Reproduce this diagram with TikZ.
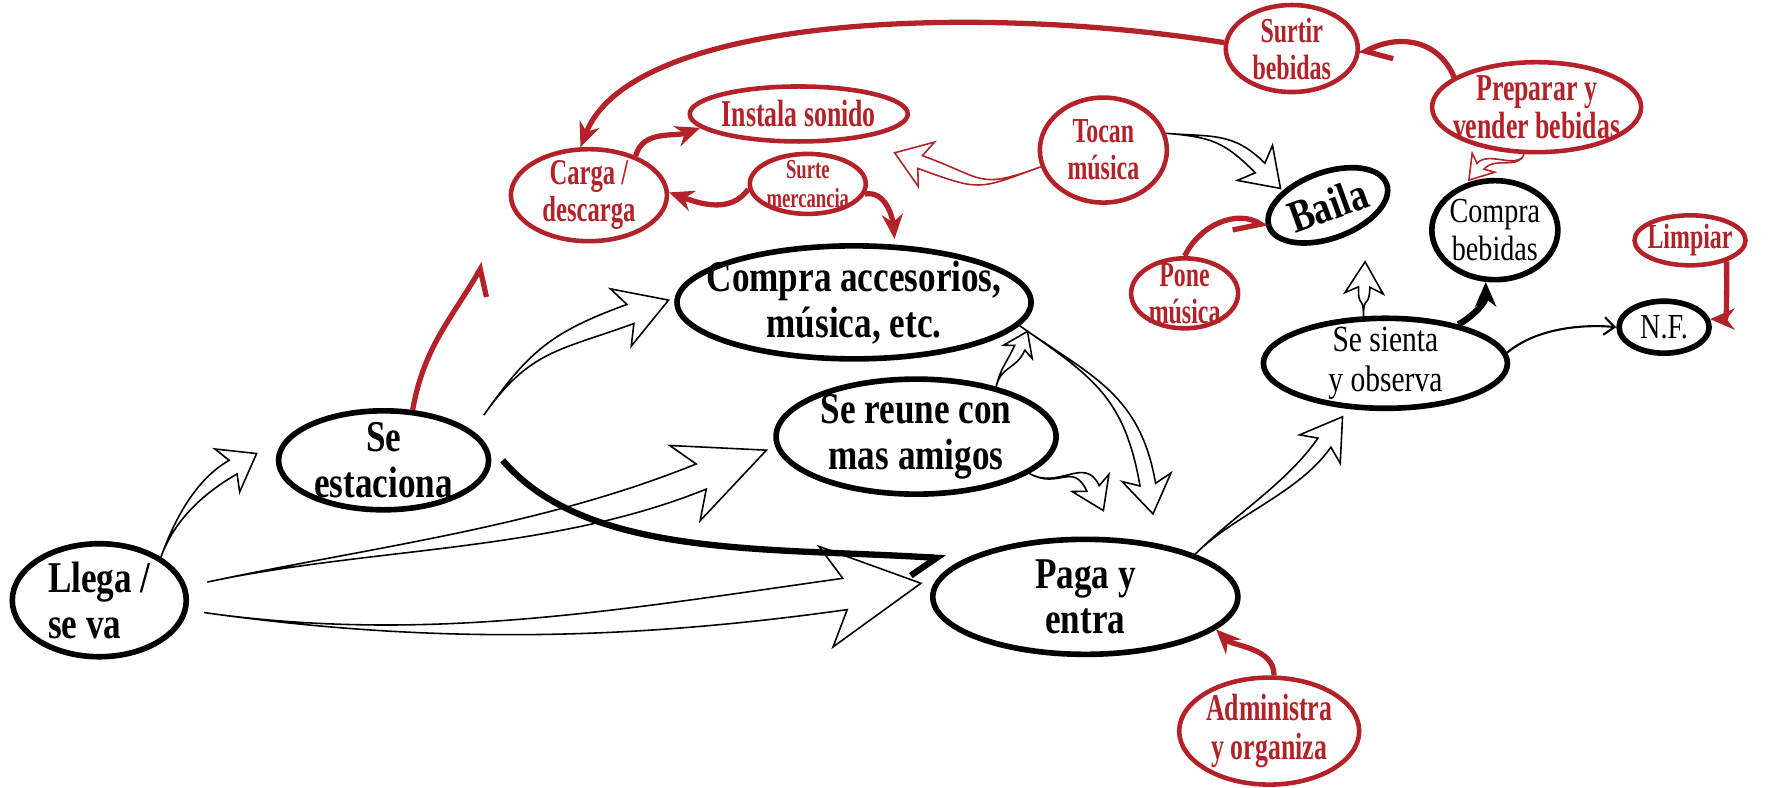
\documentclass[tikz,border=0pt]{standalone}
\usepackage{fontspec}
\setmainfont{Liberation Serif}[FakeStretch=0.8]
\newfontfamily\narrowfont{Liberation Serif}[FakeStretch=0.68]
\usetikzlibrary{shapes.geometric, arrows.meta, calc}

\definecolor{mapred}{RGB}{178,34,40}

\newcommand{\txtbig}{\fontsize{12.5}{13}\selectfont\bfseries}
\newcommand{\txtred}{\narrowfont\fontsize{10.8}{11}\selectfont\bfseries}
\newcommand{\txtredsm}{\narrowfont\fontsize{10}{10.5}\selectfont\bfseries}
\newcommand{\txttiny}{\narrowfont\fontsize{7.8}{8.2}\selectfont\bfseries}
\newcommand{\txtplain}{\fontsize{10.5}{11.5}\selectfont}
\newcommand{\txtsmall}{\fontsize{10}{11}\selectfont}

% hollow curved arrow: [style]{tip}{head angle}{tail}{tail angle}{head length}{head half width}{shaft half width}{bend}
\newcommand{\blockarrow}[9][]{%
  \draw[hollow,#1] (#2)
    -- ($(#2)+(#3+180:#6)+(#3+90:#7)$)
    -- ($(#2)+(#3+180:#6*0.8)+(#3+90:#8)$)
    .. controls +(#3+180:#9) and +(#5:#9) .. (#4)
    .. controls +(#5:#9) and +(#3+180:#9) .. ($(#2)+(#3+180:#6*0.8)+(#3-90:#8)$)
    -- ($(#2)+(#3+180:#6)+(#3-90:#7)$)
    -- cycle;}

\begin{document}
\begin{tikzpicture}[x=1.128cm, y=1.128cm,
  bub/.style={ellipse, inner sep=-2cm, align=center},
  blackbub/.style={bub, draw=black, line width=1.6pt, font=\txtbig},
  plainbub/.style={bub, draw=black, line width=1.6pt, font=\txtplain},
  redbub/.style={bub, draw=mapred, text=mapred, line width=1.3pt, font=\txtred},
  hollow/.style={draw=black, line width=0.45pt, fill=white, line join=miter},
  redhollow/.style={hollow, draw=mapred},
  redlink/.style={draw=mapred, line width=1.5pt, -{Stealth[length=7pt,width=6pt]}},
  redhook/.style={draw=mapred, line width=1.5pt, -{Straight Barb[harpoon,swap,length=6pt,width=11pt]}},
  redhookl/.style={draw=mapred, line width=1.5pt, -{Straight Barb[harpoon,length=6pt,width=11pt]}},
  blacklink/.style={draw=black, line width=1.8pt, -{Stealth[length=7pt,width=6pt]}},
  blackhook/.style={draw=black, line width=1.8pt, -{Straight Barb[harpoon,swap,length=7pt,width=11pt]}},
  thinlink/.style={draw=black, line width=0.6pt, -{Straight Barb[length=3pt,width=5pt]}}
]
\useasboundingbox (0,0) rectangle (15.68,-6.98);

% black bubbles
\node[blackbub, minimum width=1.74cm, minimum height=1.13cm, align=left] (llega) at (0.88,-5.32) {Llega /\\se va};
\node[blackbub, minimum width=2.10cm, minimum height=0.99cm] (estac) at (3.40,-4.08) {Se\\estaciona};
\node[blackbub, minimum width=3.54cm, minimum height=1.13cm] (accs) at (7.57,-2.68) {Compra accesorios,\\música, etc.};
\node[blackbub, minimum width=2.80cm, minimum height=1.15cm] (reune) at (8.12,-3.87) {Se reune con\\mas amigos};
\node[blackbub, minimum width=3.05cm, minimum height=1.15cm] (paga) at (9.62,-5.29) {Paga y\\entra};
\node[blackbub, font=\fontsize{13}{13}\selectfont\bfseries, minimum width=1.25cm, minimum height=0.66cm, rotate=20] (baila) at (11.77,-1.82) {Baila};
\node[plainbub, font=\txtsmall, minimum width=1.26cm, minimum height=0.99cm] (cbebidas) at (13.25,-2.04) {Compra\\bebidas};
\node[plainbub, minimum width=2.44cm, minimum height=0.90cm] (sienta) at (12.28,-3.22) {Se sienta\\y observa};
\node[plainbub, font=\txtsmall, minimum width=0.90cm, minimum height=0.52cm] (nf) at (14.75,-2.90) {N.F.};

% red bubbles
\node[redbub, font=\narrowfont\fontsize{10.3}{10.5}\selectfont\bfseries, minimum width=1.56cm, minimum height=0.92cm] (carga) at (5.22,-1.73) {Carga /\\descarga};
\node[redbub, minimum width=2.18cm, minimum height=0.55cm] (instala) at (7.08,-1.01) {Instala sonido};
\node[redbub, font=\txttiny, minimum width=1.16cm, minimum height=0.60cm] (surte) at (7.16,-1.63) {Surte\\mercancia};
\node[redbub, font=\txtredsm, minimum width=1.27cm, minimum height=1.05cm] (tocan) at (9.78,-1.33) {Tocan\\música};
\node[redbub, font=\txtredsm, minimum width=1.32cm, minimum height=0.87cm] (surtir) at (11.45,-0.43) {Surtir\\bebidas};
\node[redbub, minimum width=2.09cm, minimum height=0.90cm] (preparar) at (13.62,-0.95) {Preparar y\\vender bebidas};
\node[redbub, font=\txtredsm, minimum width=1.07cm, minimum height=0.70cm] (pone) at (10.50,-2.60) {Pone\\música};
\node[redbub, font=\narrowfont\fontsize{10}{10}\selectfont\bfseries, minimum width=1.11cm, minimum height=0.50cm] (limpiar) at (14.98,-2.13) {Limpiar};
\node[redbub, minimum width=1.80cm, minimum height=1.07cm] (admin) at (11.25,-6.48) {Administra\\y organiza};

% hollow arrows
\coordinate (tipEst) at ($(estac.west)+(-0.17,0.06)$);
\coordinate (tipReu) at ($(reune.west)+(-0.06,-0.12)$);
\coordinate (tipPag) at ($(paga.west)+(-0.08,0.12)$);
\coordinate (tipAcc) at ($(accs.west)+(-0.05,0.02)$);
\coordinate (tipAcc2) at ($(accs.-9)+(0.1,-0.03)$);
\coordinate (tipPag2) at ($(paga.north)+(0.6,0.2)$);
\coordinate (tipPag3) at ($(paga.north)+(0.16,0.23)$);
\coordinate (tipSie) at ($(sienta.south)+(-0.38,-0.05)$);
\coordinate (tipBai) at ($(baila.center)+(-0.42,0.15)$);
\coordinate (tipBai2) at ($(baila.center)+(0.33,-0.50)$);
\coordinate (tipIns) at ($(instala.south)+(0.85,-0.08)$);
\coordinate (tipCbe) at ($(cbebidas.north)+(-0.23,-0.02)$);

\blockarrow{tipEst}{30}{llega.35}{70}{0.30}{0.22}{0.07}{0.35}
\blockarrow{tipReu}{22}{$(llega.12)+(0.2,0)$}{12}{0.78}{0.36}{0.12}{1.5}
\blockarrow{tipPag}{8}{$(llega.-8)+(0.15,0)$}{-8}{0.85}{0.45}{0.14}{2.0}
\blockarrow{tipAcc}{20}{$(estac.25)+(0.2,0.08)$}{55}{0.45}{0.27}{0.09}{0.7}
\blockarrow{tipAcc2}{65}{reune.32}{75}{0.20}{0.14}{0.05}{0.2}
\blockarrow{tipPag2}{-80}{accs.-8}{-35}{0.33}{0.22}{0.07}{0.8}
\blockarrow{tipPag3}{-65}{reune.-18}{-30}{0.27}{0.18}{0.06}{0.3}
\blockarrow{tipSie}{55}{paga.north east}{45}{0.35}{0.22}{0.07}{0.5}
\blockarrow{tipBai}{-45}{tocan.15}{-5}{0.32}{0.22}{0.06}{0.4}
\blockarrow{tipBai2}{88}{sienta.115}{90}{0.28}{0.17}{0.05}{0.2}
\blockarrow[redhollow]{tipIns}{160}{tocan.195}{200}{0.30}{0.21}{0.06}{0.6}
\blockarrow[redhollow]{tipCbe}{-130}{preparar.255}{-110}{0.20}{0.13}{0.04}{0.15}

% red links
\coordinate (cargaEnd) at ($(carga.south west)+(-0.43,-0.30)$);
\draw[redhook] (estac.60) to[out=80,in=240] (cargaEnd);
\draw[redlink] (surtir.175) .. controls (8.6,-0.02) and (5.6,-0.15) .. (carga.100);
\draw[redlink] (carga.40) to[out=75,in=200] (instala.188);
\draw[redlink] (surte.185) to[out=235,in=-20] (carga.2);
\draw[redlink] (surte.-10) to[out=10,in=95] ($(accs.55)+(0,0.05)$);
\draw[redhookl] (preparar.160) .. controls (12.75,-0.35) and (12.40,-0.30) .. (surtir.-5);
\draw[redhook] (pone.90) .. controls +(0.15,0.3) and +(-0.25,0.15) .. (baila.180);
\draw[redlink] (limpiar.-30) .. controls +(0,-0.35) and +(0.15,0) .. (nf.10);
\draw[redlink] (admin.85) .. controls +(0,0.25) and +(0.15,-0.15) .. (paga.-14);

% black links
\draw[blackhook, shorten >=5pt] ($(estac.0)+(0.1,0)$) .. controls (5.2,-4.95) and (6.8,-4.85) .. (paga.163);
\draw[blacklink] (sienta.28) to[out=30,in=-90] (cbebidas.-100);
\draw[thinlink] (sienta.5) .. controls +(0.3,0.25) and +(-0.2,0.02) .. (nf.180);
\end{tikzpicture}
\end{document}
